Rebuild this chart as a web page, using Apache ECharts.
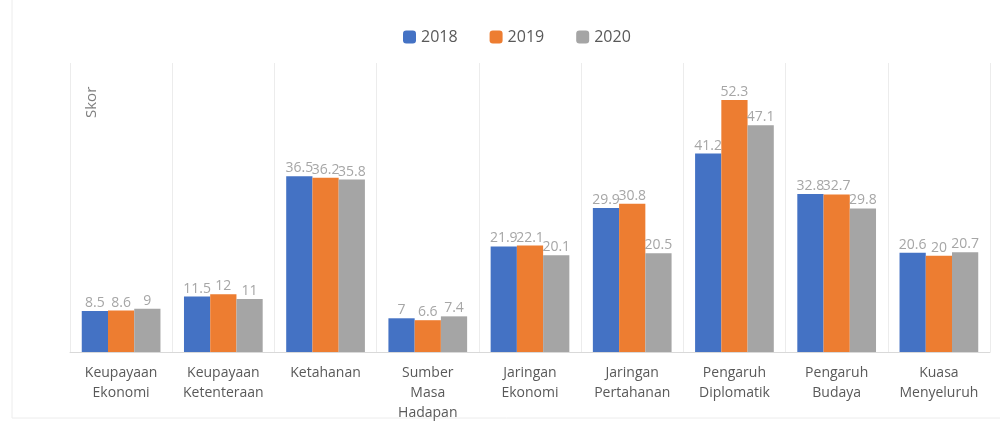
<!DOCTYPE html>
<html>
<head>
<meta charset="utf-8">
<script src="https://cdn.jsdelivr.net/npm/echarts@6/dist/echarts.min.js"></script>
<style>
  html, body { margin: 0; padding: 0; background: #fff; }
  #chart { width: 1000px; height: 424px; }
</style>
</head>
<body>
<div id="chart"></div>
<script>
// kategori dan nilai
var categories = [
  "Keupayaan\nEkonomi", "Keupayaan\nKetenteraan", "Ketahanan", "Sumber\nMasa\nHadapan",
  "Jaringan\nEkonomi", "Jaringan\nPertahanan", "Pengaruh\nDiplomatik", "Pengaruh\nBudaya", "Kuasa\nMenyeluruh"
];
var years = ["2018", "2019", "2020"];
var data2018 = [8.5, 11.5, 36.5, 7, 21.9, 29.9, 41.2, 32.8, 20.6];
var data2019 = [8.6, 12, 36.2, 6.6, 22.1, 30.8, 52.3, 32.7, 20];
var data2020 = [9, 11, 35.8, 7.4, 20.1, 20.5, 47.1, 29.8, 20.7];
var colors = ["#4472C4", "#ED7D31", "#A5A5A5"];

var font = "'Open Sans', sans-serif";

function makeSeries(name, values, color) {
  return {
    name: name,
    type: "bar",
    data: values,
    barGap: "0%",
    barCategoryGap: "23%",
    itemStyle: { color: color },
    label: {
      show: true,
      position: "top",
      distance: 1,
      color: "#a6a6a6",
      fontSize: 14,
      fontFamily: font
    }
  };
}

var option = {
  animation: false,
  color: colors,
  legend: {
    top: 24,
    left: 398,
    itemWidth: 13,
    itemHeight: 13,
    itemGap: 32,
    textStyle: { color: "#595959", fontSize: 16, fontFamily: font },
    data: years
  },
  grid: { left: 70, right: 10, top: 63, bottom: 72 },
  xAxis: {
    type: "category",
    data: categories,
    axisTick: { show: false },
    axisLine: { lineStyle: { color: "#d9d9d9" } },
    splitLine: { show: true, lineStyle: { color: "#ececec" } },
    axisLabel: {
      color: "#595959",
      fontSize: 14,
      fontFamily: font,
      lineHeight: 20,
      margin: 11,
      interval: 0
    }
  },
  yAxis: {
    type: "value",
    min: 0,
    max: 60,
    show: false,
    splitLine: { show: false }
  },
  graphic: [
    {
      type: "text",
      x: 84,
      y: 118,
      rotation: Math.PI / 2,
      style: { text: "Skor", fill: "#7f7f7f", fontSize: 15, fontFamily: font }
    },
    {
      type: "rect",
      shape: { x: 12, y: -2, width: 990, height: 420 },
      style: { fill: "none", stroke: "#ececec", lineWidth: 1 },
      silent: true
    }
  ],
  series: [
    makeSeries(years[0], data2018, colors[0]),
    makeSeries(years[1], data2019, colors[1]),
    makeSeries(years[2], data2020, colors[2])
  ]
};

var chart = echarts.init(document.getElementById("chart"));
chart.setOption(option);
</script>
</body>
</html>
